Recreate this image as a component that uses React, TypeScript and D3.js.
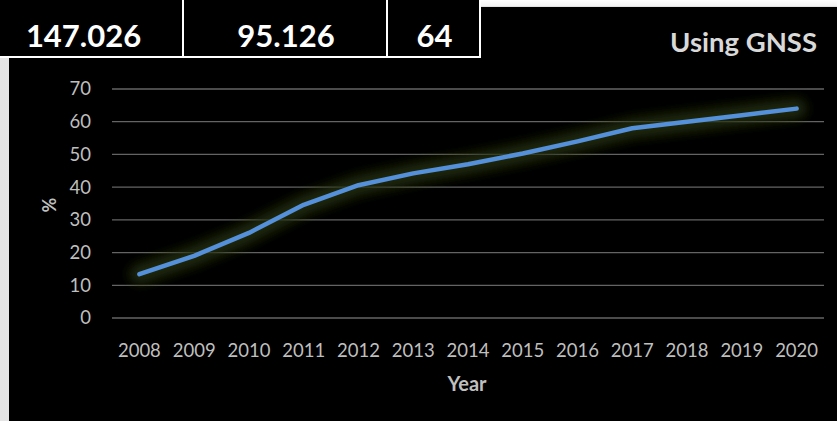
import React from "react";
import * as d3 from "d3";

const years = ["2008","2009","2010","2011","2012","2013","2014","2015","2016","2017","2018","2019","2020"];
const usingGnss = [13.4, 19, 26, 34.6, 40.6, 44.2, 47, 50.3, 54, 58, 60, 62, 64];
const yTicks = [0, 10, 20, 30, 40, 50, 60, 70];
const tableValues = ["147.026", "95.126", "64"];
const tableEdges = [-17, 184, 388, 481];

const W = 837, H = 421;
const FONT = "Lato, 'Open Sans', sans-serif";

export default function App() {
  const x = d3.scalePoint<string>().domain(years).range([112, 824]).padding(0.5);
  const y = d3.scaleLinear().domain([0, 70]).range([318, 89]);
  const line = d3.line<number>().x((_, i) => x(years[i])!).y((d) => y(d));
  const path = line(usingGnss) || "";

  return (
    <svg width={W} height={H} style={{ position: "absolute", left: 0, top: 0, display: "block" }} fontFamily={FONT}>
      <defs>
        <linearGradient id="leftStrip" x1="0" x2="1" y1="0" y2="0">
          <stop offset="0" stopColor="#e4e4e4" />
          <stop offset="0.4" stopColor="#fbfbfb" />
          <stop offset="1" stopColor="#eeeeee" />
        </linearGradient>
        <linearGradient id="topStrip" x1="0" x2="0" y1="0" y2="1">
          <stop offset="0" stopColor="#ffffff" />
          <stop offset="0.7" stopColor="#f4f4f4" />
          <stop offset="1" stopColor="#c4c4c4" />
        </linearGradient>
        <filter id="glow" x="-20%" y="-50%" width="140%" height="200%">
          <feGaussianBlur stdDeviation="6" />
        </filter>
      </defs>
      <rect x={0} y={0} width={W} height={H} fill="url(#leftStrip)" />
      <rect x={0} y={0} width={W} height={8} fill="url(#topStrip)" />
      <rect x={9} y={7} width={W - 9} height={H - 7} fill="#000" />

      {/* gridlines */}
      {yTicks.map((t) => (
        <line key={t} x1={112} x2={824} y1={y(t)} y2={y(t)} stroke="#646464" strokeWidth={1.3} />
      ))}
      {/* y labels */}
      {yTicks.map((t) => (
        <text key={t} x={91} y={y(t)} dy="0.35em" textAnchor="end" fill="#bfbfbf" fontSize={18.5}>{t}</text>
      ))}
      {/* x labels */}
      {years.map((yr) => (
        <text key={yr} x={x(yr)!} y={357} textAnchor="middle" fill="#bfbfbf" fontSize={18.5}>{yr}</text>
      ))}
      <text x={467} y={391} textAnchor="middle" fill="#bfbfbf" fontSize={20} fontWeight="bold">Year</text>
      <text transform="translate(56,205) rotate(-90)" textAnchor="middle" fill="#bfbfbf" fontSize={18} fontWeight="bold">%</text>

      {/* line with glow */}
      <path d={path} fill="none" stroke="#26300a" strokeWidth={20} strokeLinecap="round" strokeLinejoin="round" filter="url(#glow)" opacity={0.85} />
      <path d={path} fill="none" stroke="#5590db" strokeWidth={4.5} strokeLinecap="round" strokeLinejoin="round" />

      {/* title */}
      <text x={817} y={52} textAnchor="end" fill="#d9d9d9" fontSize={27.5} fontWeight="bold">Using GNSS</text>

      {/* table */}
      <rect x={0} y={0} width={481} height={58} fill="#000" />
      {tableValues.map((v, i) => (
        <text key={v} x={(tableEdges[i] + tableEdges[i + 1]) / 2} y={47} textAnchor="middle" fill="#ffffff" fontSize={31} fontWeight="bold">{v}</text>
      ))}
      {tableEdges.slice(1).map((e) => (
        <line key={e} x1={e - 1} x2={e - 1} y1={0} y2={58} stroke="#ffffff" strokeWidth={2} />
      ))}
      <line x1={0} x2={481} y1={57} y2={57} stroke="#ffffff" strokeWidth={2} />
    </svg>
  );
}
